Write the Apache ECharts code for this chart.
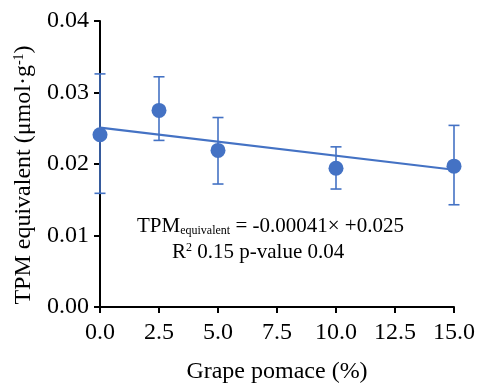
<!DOCTYPE html>
<html>
<head>
<meta charset="utf-8">
<script src="https://cdn.jsdelivr.net/npm/echarts@6/dist/echarts.min.js"></script>
<style>
  html, body { margin: 0; padding: 0; background: #fff; }
  #chart { width: 482px; height: 384px; }
</style>
</head>
<body>
<div id="chart"></div>
<script>
// data
const pomace = [0, 2.5, 5, 10, 15];
const tpmMean = [0.0241, 0.0275, 0.0219, 0.0194, 0.0197];
const tpmLow = [0.0159, 0.0233, 0.0172, 0.0165, 0.0143];
const tpmHigh = [0.0326, 0.0322, 0.0265, 0.0224, 0.0254];
const fitX = [0, 15];
const fitY = [0.0251, 0.0192];

const blue = '#4472C4';
const serif = '"Liberation Serif", "Times New Roman", serif';

const chart = echarts.init(document.getElementById('chart'));

const option = {
    animation: false,
    textStyle: { fontFamily: serif, color: '#000' },
    grid: { left: 100, right: 28, top: 21, bottom: 77, containLabel: false, outerBoundsMode: 'none' },
    xAxis: {
        type: 'value',
        min: 0,
        max: 15,
        interval: 2.5,
        name: 'Grape pomace (%)',
        nameLocation: 'middle',
        nameGap: 53,
        nameTextStyle: { fontFamily: serif, fontSize: 24, color: '#000' },
        axisLine: { lineStyle: { color: '#000', width: 2 } },
        axisTick: { length: 6, lineStyle: { color: '#000', width: 2 } },
        axisLabel: {
            fontFamily: serif, fontSize: 24, color: '#000', margin: 14,
            formatter: v => v.toFixed(1),
        },
        splitLine: { show: false },
    },
    yAxis: {
        type: 'value',
        min: 0,
        max: 0.04,
        interval: 0.01,
        name: 'TPM equivalent (μmol·g{sup|-1})',
        nameLocation: 'middle',
        nameGap: 62,
        nameTextStyle: {
            fontFamily: serif, fontSize: 24, color: '#000',
            padding: [0, 22, 0, 0],
            rich: { sup: { fontFamily: serif, fontSize: 14, color: '#000', verticalAlign: 'top', padding: [0, 0, 9, 0] } },
        },
        axisLine: { show: true, lineStyle: { color: '#000', width: 2 } },
        axisTick: { show: true, length: 6, lineStyle: { color: '#000', width: 2 } },
        axisLabel: {
            fontFamily: serif, fontSize: 24, color: '#000', margin: 11,
            formatter: v => v.toFixed(2),
        },
        splitLine: { show: false },
    },
    series: [
        {
            type: 'custom',
            data: pomace.map((x, i) => [x, tpmLow[i], tpmHigh[i]]),
            renderItem: (params, api) => {
                const lo = api.coord([api.value(0), api.value(1)]);
                const hi = api.coord([api.value(0), api.value(2)]);
                const cap = 5.5;
                const style = { stroke: blue, lineWidth: 1.6 };
                return {
                    type: 'group',
                    children: [
                        { type: 'line', shape: { x1: lo[0], y1: lo[1], x2: hi[0], y2: hi[1] }, style },
                        { type: 'line', shape: { x1: lo[0] - cap, y1: lo[1], x2: lo[0] + cap, y2: lo[1] }, style },
                        { type: 'line', shape: { x1: hi[0] - cap, y1: hi[1], x2: hi[0] + cap, y2: hi[1] }, style },
                    ],
                };
            },
            z: 3,
        },
        {
            type: 'line',
            data: fitX.map((x, i) => [x, fitY[i]]),
            showSymbol: false,
            lineStyle: { color: blue, width: 2.2 },
            z: 4,
        },
        {
            type: 'scatter',
            data: pomace.map((x, i) => [x, tpmMean[i]]),
            symbolSize: 15,
            itemStyle: { color: blue, opacity: 1 },
            z: 5,
        },
    ],
    graphic: [
        {
            type: 'text',
            left: 137,
            top: 216,
            style: {
                text: 'TPM{sub|equivalent} = -0.00041× +0.025',
                fontFamily: serif,
                fontSize: 21,
                fill: '#000',
                rich: { sub: { fontFamily: serif, fontSize: 12, fill: '#000', verticalAlign: 'bottom', padding: [9, 0, 0, 0] } },
            },
        },
        {
            type: 'text',
            left: 172,
            top: 242,
            style: {
                text: 'R{sup|2} 0.15 p-value 0.04',
                fontFamily: serif,
                fontSize: 21,
                fill: '#000',
                rich: { sup: { fontFamily: serif, fontSize: 12, fill: '#000', verticalAlign: 'top', padding: [0, 0, 9, 0] } },
            },
        },
    ],
};

chart.setOption(option);
</script>
</body>
</html>
